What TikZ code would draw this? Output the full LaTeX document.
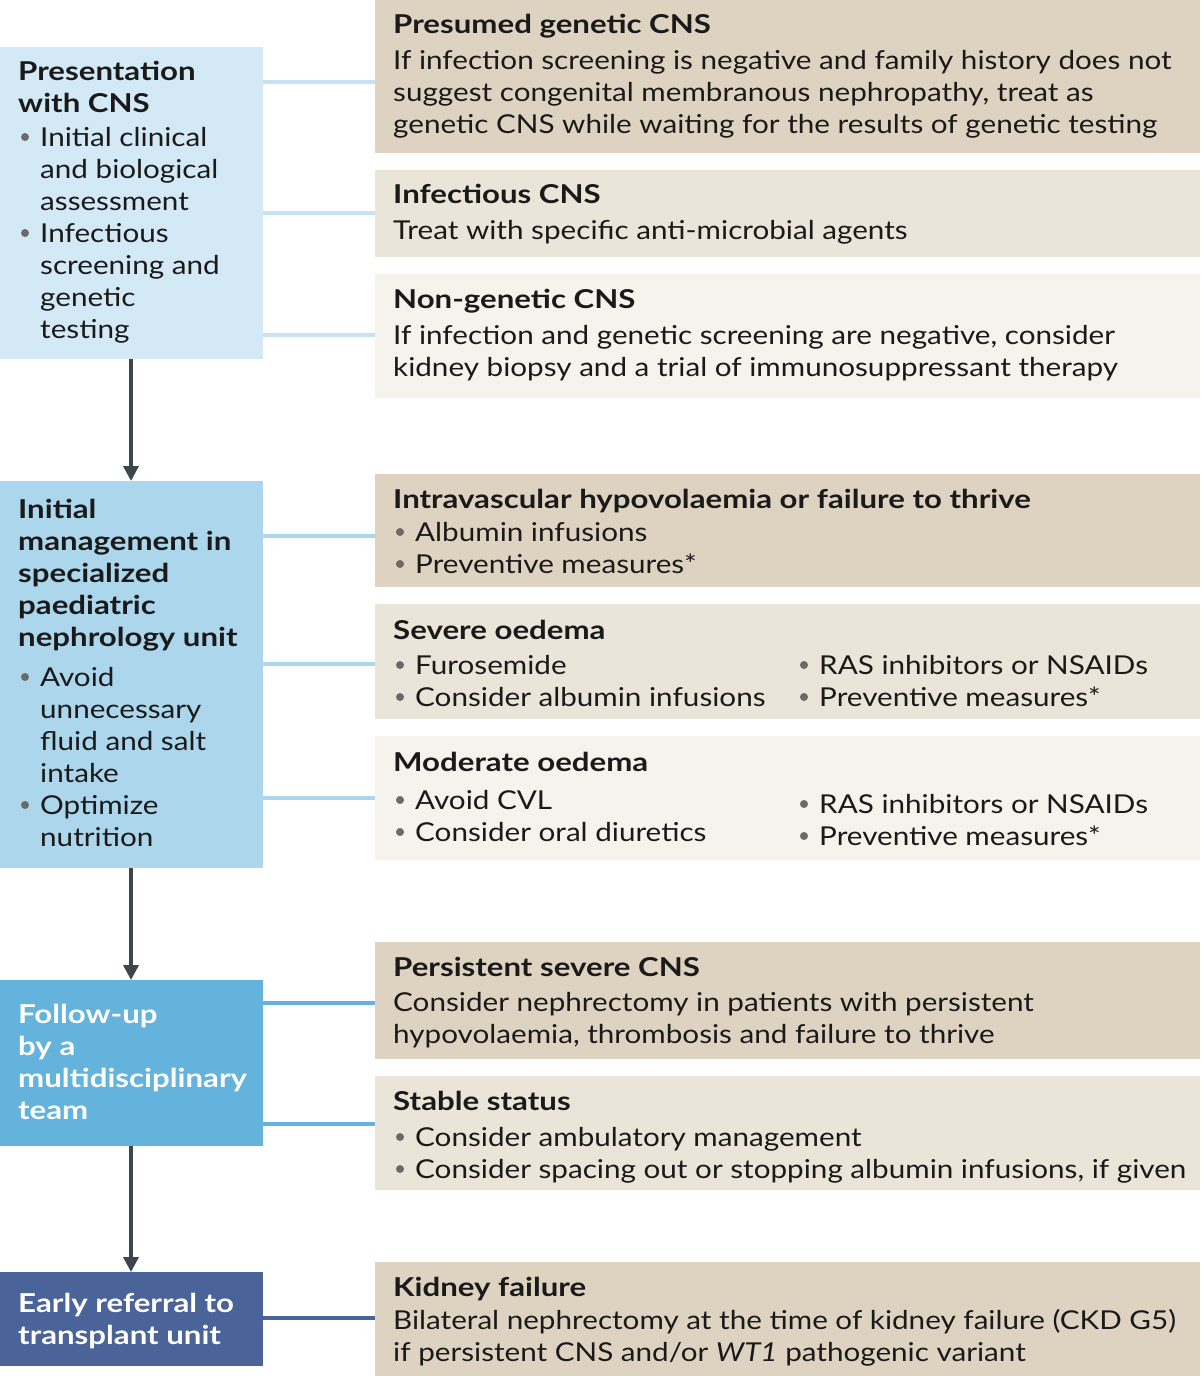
\documentclass[tikz,border=0pt]{standalone}
\usepackage{fontspec}
\setmainfont{Lato}[FakeStretch=1.14, BoldFeatures={FakeStretch=1.2}, ItalicFeatures={FakeStretch=1.14}]
\usetikzlibrary{arrows.meta}
\definecolor{bxa}{HTML}{D4E9F6}
\definecolor{bxb}{HTML}{ABD6EC}
\definecolor{bxc}{HTML}{63B3DC}
\definecolor{bxd}{HTML}{4A6399}
\definecolor{cona}{HTML}{C6E2F3}
\definecolor{tdark}{HTML}{DDD3C0}
\definecolor{tmid}{HTML}{EBE4D8}
\definecolor{tlight}{HTML}{F6F2EC}
\definecolor{arr}{HTML}{3C474D}
\definecolor{bulc}{HTML}{6A6A6A}
\definecolor{ink}{HTML}{1A1A1A}
\tikzset{
  lbox/.style={rectangle, draw=none, inner sep=0pt, anchor=north west, minimum width=263pt},
  rbox/.style={rectangle, draw=none, inner sep=0pt, anchor=north west, minimum width=825pt},
  txt/.style={anchor=base west, inner sep=0pt, text=ink, font=\fontsize{26}{32}\selectfont},
  ttl/.style={txt, font=\fontsize{26}{32}\selectfont\bfseries},
  wttl/.style={ttl, text=white},
  flow/.style={draw=arr, line width=3.5pt, -{Triangle[length=15pt,width=15pt]}},
  con/.style={line width=3.5pt},
}
\newcommand\bul[2]{\fill[bulc] (#1,{#2-9}) circle (4);}
\begin{document}
\begin{tikzpicture}[x=1pt,y=-1pt]
\useasboundingbox (0,0) rectangle (1200,1376);
% left boxes
\node[lbox, fill=bxa, minimum height=312pt] (b1) at (0,47) {};
\node[lbox, fill=bxb, minimum height=387pt] (b2) at (0,481) {};
\node[lbox, fill=bxc, minimum height=166pt] (b3) at (0,980) {};
\node[lbox, fill=bxd, minimum height=94pt] (b4) at (0,1272) {};
% right boxes
\node[rbox, fill=tdark, minimum height=153pt] (r1) at (375,0) {};
\node[rbox, fill=tmid, minimum height=87pt] (r2) at (375,170) {};
\node[rbox, fill=tlight, minimum height=124pt] (r3) at (375,274) {};
\node[rbox, fill=tdark, minimum height=113pt] (r4) at (375,474) {};
\node[rbox, fill=tmid, minimum height=115pt] (r5) at (375,604) {};
\node[rbox, fill=tlight, minimum height=124pt] (r6) at (375,736) {};
\node[rbox, fill=tdark, minimum height=117pt] (r7) at (375,942) {};
\node[rbox, fill=tmid, minimum height=114pt] (r8) at (375,1076) {};
\node[rbox, fill=tdark, minimum height=114pt] (r9) at (375,1262) {};
% connectors
\draw[con, cona] (b1.east |- 0,82) -- (r1.west |- 0,82);
\draw[con, cona] (b1.east |- 0,213) -- (r2.west |- 0,213);
\draw[con, cona] (b1.east |- 0,335) -- (r3.west |- 0,335);
\draw[con, bxb] (b2.east |- 0,536) -- (r4.west |- 0,536);
\draw[con, bxb] (b2.east |- 0,664) -- (r5.west |- 0,664);
\draw[con, bxb] (b2.east |- 0,798) -- (r6.west |- 0,798);
\draw[con, bxc] (b3.east |- 0,1003) -- (r7.west |- 0,1003);
\draw[con, bxc] (b3.east |- 0,1124) -- (r8.west |- 0,1124);
\draw[con, bxd] (b4.east |- 0,1318) -- (r9.west |- 0,1318);
% flow arrows
\draw[flow] (b1.south -| 131,0) -- (b2.north -| 131,0);
\draw[flow] (b2.south -| 131,0) -- (b3.north -| 131,0);
\draw[flow] (b3.south -| 131,0) -- (b4.north -| 131,0);
% left texts
\node[ttl] (t1a) at (18,80) {Presentation};
\node[ttl] (t1b) at (18,112) {with CNS};
\bul{25}{146}
\node[txt] (t1c) at (40,146) {Initial clinical};
\node[txt] (t1d) at (40,178) {and biological};
\node[txt] (t1e) at (40,210) {assessment};
\bul{25}{242}
\node[txt] (t1f) at (40,242) {Infectious};
\node[txt] (t1g) at (40,274) {screening and};
\node[txt] (t1h) at (40,306) {genetic};
\node[txt] (t1i) at (40,338) {testing};
\node[ttl] (t2a) at (18,518) {Initial};
\node[ttl] (t2b) at (18,550) {management in};
\node[ttl] (t2c) at (18,582) {specialized};
\node[ttl] (t2d) at (18,614) {paediatric};
\node[ttl] (t2e) at (18,646) {nephrology unit};
\bul{25}{686}
\node[txt] (t2f) at (40,686) {Avoid};
\node[txt] (t2g) at (40,718) {unnecessary};
\node[txt] (t2h) at (40,750) {fluid and salt};
\node[txt] (t2i) at (40,782) {intake};
\bul{25}{814}
\node[txt] (t2j) at (40,814) {Optimize};
\node[txt] (t2k) at (40,846) {nutrition};
\node[wttl] (t3a) at (18,1023) {Follow-up};
\node[wttl] (t3b) at (18,1055) {by a};
\node[wttl] (t3c) at (18,1087) {multidisciplinary};
\node[wttl] (t3d) at (18,1119) {team};
\node[wttl] (t4a) at (18,1312) {Early referral to};
\node[wttl] (t4b) at (18,1344) {transplant unit};
% right texts
\node[ttl] (s1a) at (393,33) {Presumed genetic CNS};
\node[txt] (s1b) at (393,69) {If infection screening is negative and family history does not};
\node[txt] (s1c) at (393,101) {suggest congenital membranous nephropathy, treat as};
\node[txt] (s1d) at (393,133) {genetic CNS while waiting for the results of genetic testing};
\node[ttl] (s2a) at (393,203) {Infectious CNS};
\node[txt] (s2b) at (393,239) {Treat with specific anti-microbial agents};
\node[ttl] (s3a) at (393,308) {Non-genetic CNS};
\node[txt] (s3b) at (393,344) {If infection and genetic screening are negative, consider};
\node[txt] (s3c) at (393,376) {kidney biopsy and a trial of immunosuppressant therapy};
\node[ttl] (s4a) at (393,508) {Intravascular hypovolaemia or failure to thrive};
\bul{400}{541}
\node[txt] (s4b) at (415,541) {Albumin infusions};
\bul{400}{573}
\node[txt] (s4c) at (415,573) {Preventive measures*};
\node[ttl] (s5a) at (393,639) {Severe oedema};
\bul{400}{674}
\node[txt] (s5b) at (415,674) {Furosemide};
\bul{400}{706}
\node[txt] (s5c) at (415,706) {Consider albumin infusions};
\bul{804}{674}
\node[txt] (s5d) at (819,674) {RAS inhibitors or NSAIDs};
\bul{804}{706}
\node[txt] (s5e) at (819,706) {Preventive measures*};
\node[ttl] (s6a) at (393,771) {Moderate oedema};
\bul{400}{809}
\node[txt] (s6b) at (415,809) {Avoid CVL};
\bul{400}{841}
\node[txt] (s6c) at (415,841) {Consider oral diuretics};
\bul{804}{813}
\node[txt] (s6d) at (819,813) {RAS inhibitors or NSAIDs};
\bul{804}{845}
\node[txt] (s6e) at (819,845) {Preventive measures*};
\node[ttl] (s7a) at (393,976) {Persistent severe CNS};
\node[txt] (s7b) at (393,1011) {Consider nephrectomy in patients with persistent};
\node[txt] (s7c) at (393,1043) {hypovolaemia, thrombosis and failure to thrive};
\node[ttl] (s8a) at (393,1110) {Stable status};
\bul{400}{1146}
\node[txt] (s8b) at (415,1146) {Consider ambulatory management};
\bul{400}{1178}
\node[txt] (s8c) at (415,1178) {Consider spacing out or stopping albumin infusions, if given};
\node[ttl] (s9a) at (393,1296) {Kidney failure};
\node[txt] (s9b) at (393,1329) {Bilateral nephrectomy at the time of kidney failure (CKD G5)};
\node[txt] (s9c) at (393,1361) {if persistent CNS and/or \textit{WT1} pathogenic variant};
\end{tikzpicture}
\end{document}
